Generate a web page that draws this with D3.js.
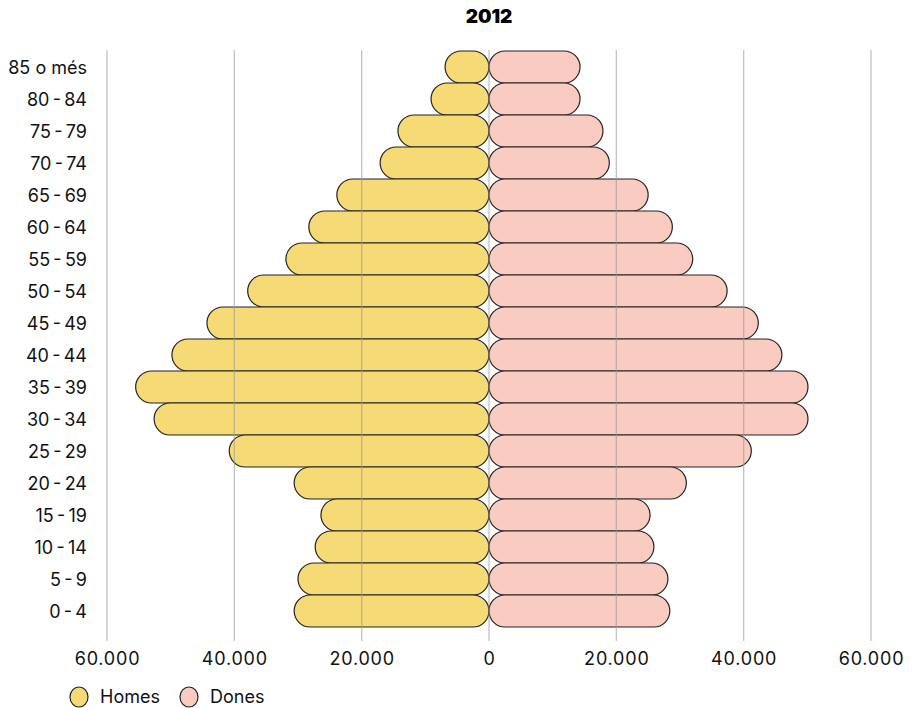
<!DOCTYPE html>
<html><head><meta charset="utf-8">
<script src="https://cdn.jsdelivr.net/npm/d3@7"></script>
<style>body{margin:0;background:#fff;font-family:Inter,"Noto Sans",sans-serif}</style>
</head><body><svg id="c" width="913" height="708"></svg>
<script>
const categories = ["85 o més","80\u2009-\u200984","75\u2009-\u200979","70\u2009-\u200974","65\u2009-\u200969","60\u2009-\u200964","55\u2009-\u200959","50\u2009-\u200954","45\u2009-\u200949","40\u2009-\u200944","35\u2009-\u200939","30\u2009-\u200934","25\u2009-\u200929","20\u2009-\u200924","15\u2009-\u200919","10\u2009-\u200914","5\u2009-\u20099","0\u2009-\u20094"];
const homes = [6900,9100,14300,17100,23900,28300,31900,37900,44300,49800,55500,52600,40800,30600,26400,27300,30000,30600];
const dones = [14300,14300,17900,18900,25000,28800,32000,37400,42300,46000,50100,50100,41200,31000,25300,25900,28100,28400];
const ticks = [-60000,-40000,-20000,0,20000,40000,60000];
const seriesNames = ["Homes","Dones"];
const colors = ["#F6DA76","#F9CBC1"];

const svg = d3.select("#c");
const x = d3.scaleLinear().domain([-60000,60000]).range([107,871]);
const y = d3.scaleBand().domain(categories).range([51,627]).padding(0);
const fmt = v => Math.abs(v) === 0 ? "0" : d3.format(",")(Math.abs(v)).replace(/,/g,".");

svg.append("text").attr("x",489).attr("y",23).attr("text-anchor","middle")
  .attr("font-size",19).attr("font-weight",900).attr("fill","#000").text("2012");

const bh = y.bandwidth();
const g = svg.append("g");
g.selectAll("rect.h").data(categories).join("rect")
  .attr("x",(d,i)=>x(-homes[i])).attr("width",(d,i)=>x(0)-x(-homes[i]))
  .attr("y",d=>y(d)).attr("height",bh).attr("rx",bh/2).attr("ry",bh/2)
  .attr("fill",colors[0]).attr("stroke","#222").attr("stroke-width",1.2);
g.selectAll("rect.d").data(categories).join("rect")
  .attr("x",x(0)).attr("width",(d,i)=>x(dones[i])-x(0))
  .attr("y",d=>y(d)).attr("height",bh).attr("rx",bh/2).attr("ry",bh/2)
  .attr("fill",colors[1]).attr("stroke","#222").attr("stroke-width",1.2);

// gridlines on top
svg.append("g").selectAll("line").data(ticks).join("line")
  .attr("x1",d=>x(d)).attr("x2",d=>x(d)).attr("y1",50).attr("y2",641)
  .attr("stroke","#9a9a9a").attr("stroke-opacity",0.6).attr("stroke-width",1.3);

const xAxis = d3.axisBottom(x).tickValues(ticks).tickFormat(fmt).tickSize(0);
const ax = svg.append("g").attr("transform","translate(0,646)").call(xAxis);
ax.select(".domain").remove();
ax.selectAll("text").attr("font-size",18).attr("letter-spacing",0.8).attr("fill","#111").attr("font-family","Inter,sans-serif").attr("dy","0.71em").attr("y",6);

const yAxis = d3.axisLeft(y).tickSize(0);
const ay = svg.append("g").attr("transform","translate(87,1)").call(yAxis);
ay.select(".domain").remove();
ay.selectAll("text").attr("font-size",18).attr("fill","#111").attr("font-family","Inter,sans-serif").attr("x",0);

const leg = svg.append("g").attr("transform","translate(0,697)");
const lx = [79,189];
seriesNames.forEach((n,i)=>{
  leg.append("ellipse").attr("cx",lx[i]).attr("cy",0).attr("rx",9).attr("ry",10)
    .attr("fill",colors[i]).attr("stroke","#222").attr("stroke-width",1.2);
  leg.append("text").attr("x",lx[i]+21).attr("y",0).attr("dy","0.35em")
    .attr("font-size",18).attr("fill","#111").text(n);
});
</script></body></html>
